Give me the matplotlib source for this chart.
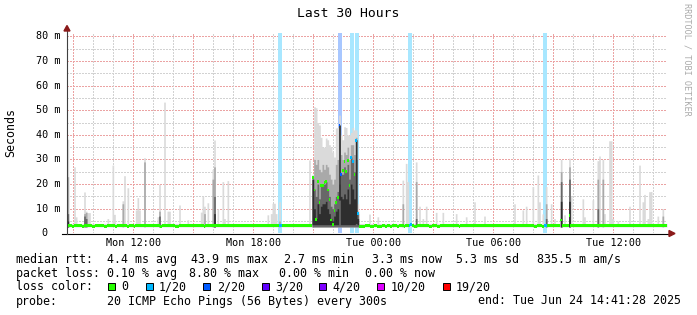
import numpy as np
import matplotlib
matplotlib.use("Agg")
import matplotlib.pyplot as plt
from matplotlib.patches import Polygon, Rectangle

# ---------------------------------------------------------------- data
start_clock = 8 + 41 / 60 + 28 / 3600      # Mon 08:41:28 (hours since Mon 00:00)
hours_span = 30
steps_per_hour = 12                        # 5 minute steps
n_steps = hours_span * steps_per_hour

# median rtt per 5-min step (ms), one row per hour
median_ms = [
    3.0, 3.1, 3.0, 2.9, 3.0, 3.0, 3.1, 3.0, 3.0, 2.9, 3.1, 3.2,
    3.1, 3.0, 3.0, 2.9, 2.9, 3.0, 3.0, 3.1, 3.0, 3.0, 2.9, 2.9,
    3.0, 3.0, 3.1, 3.1, 3.0, 2.9, 3.0, 3.0, 3.1, 3.0, 3.0, 3.0,
    2.9, 3.0, 3.0, 3.0, 2.9, 3.0, 3.1, 3.0, 3.0, 3.1, 3.0, 3.0,
    3.1, 3.2, 3.1, 3.0, 3.0, 3.1, 3.0, 3.0, 2.9, 3.0, 3.0, 3.1,
    3.0, 3.0, 3.1, 3.0, 3.0, 2.9, 2.9, 3.0, 3.0, 3.1, 3.0, 3.0,
    3.0, 3.1, 3.0, 3.0, 3.0, 3.0, 3.1, 3.0, 3.0, 3.0, 2.9, 3.0,
    3.1, 3.1, 3.0, 3.0, 3.2, 3.1, 3.0, 3.0, 3.0, 3.1, 3.0, 3.0,
    3.0, 3.1, 3.1, 3.0, 3.0, 3.1, 3.0, 3.0, 3.0, 3.1, 3.1, 3.0,
    3.1, 3.0, 3.0, 3.1, 3.1, 3.0, 3.2, 3.1, 3.1, 3.0, 3.1, 3.1,
    3.0, 3.1, 3.1, 3.0, 3.2, 3.1, 3.0, 3.1, 3.2, 3.1, 3.0, 3.1,
    3.1, 3.1, 3.2, 3.1, 3.1, 3.2, 3.1, 3.1, 3.2, 3.1, 3.2, 3.1,
    3.2, 3.1, 3.2, 22.6, 17.6, 5.6, 21.2, 12.6, 19.4, 19.4, 20.5, 21.0,
    17.6, 13.6, 5.4, 3.5, 9.2, 12.4, 14.6, 44.0, 24.0, 25.7, 29.0, 25.0,
    29.4, 19.6, 30.7, 29.0, 24.0, 37.7, 8.0, 2.9, 2.8, 2.9, 2.9, 3.0,
    3.1, 3.0, 2.9, 2.9, 3.0, 3.1, 2.9, 2.8, 2.9, 3.0, 3.0, 2.9,
    3.0, 3.0, 2.9, 3.0, 3.1, 3.0, 2.9, 3.0, 3.0, 3.0, 2.9, 3.0,
    3.0, 3.1, 3.4, 3.0, 2.9, 2.9, 3.0, 3.0, 3.0, 3.1, 3.0, 3.0,
    3.0, 2.9, 2.9, 3.0, 3.0, 3.0, 2.9, 2.9, 3.0, 3.0, 3.0, 3.0,
    3.0, 3.0, 3.1, 3.0, 3.0, 3.0, 3.0, 2.9, 3.0, 3.0, 3.0, 3.0,
    3.0, 3.0, 3.1, 3.1, 3.0, 3.0, 3.0, 3.0, 3.0, 3.1, 3.0, 3.0,
    3.0, 3.1, 3.0, 3.0, 3.0, 3.1, 3.0, 3.0, 3.0, 3.0, 3.1, 3.0,
    3.1, 3.0, 3.0, 3.0, 3.1, 3.1, 3.0, 3.0, 3.0, 3.0, 3.1, 3.0,
    3.0, 3.1, 3.1, 3.0, 2.9, 2.9, 3.0, 3.1, 3.0, 2.9, 3.2, 3.0,
    3.0, 3.0, 3.1, 3.1, 3.0, 3.0, 3.0, 3.0, 5.4, 3.1, 3.0, 3.0,
    3.0, 7.4, 3.1, 3.2, 3.1, 3.1, 3.0, 3.1, 3.1, 3.2, 3.1, 3.0,
    3.1, 3.1, 3.0, 3.1, 3.1, 3.2, 3.1, 3.0, 3.0, 3.1, 3.1, 3.1,
    3.0, 3.1, 3.1, 3.1, 3.0, 3.0, 3.1, 3.0, 3.1, 3.1, 3.1, 3.0,
    3.1, 3.0, 3.0, 3.1, 3.1, 3.0, 3.0, 3.1, 3.1, 3.0, 3.1, 3.1,
    3.1, 3.0, 3.1, 3.1, 3.0, 3.1, 3.1, 3.0, 3.1, 3.1, 3.1, 3.3,
]

# packet loss (pings lost out of 20) at individual steps
loss_steps = [127, 128, 163, 164, 170, 171, 173, 174, 205, 206, 286, 287]
loss_count = [1, 1, 2, 2, 1, 1, 1, 1, 1, 1, 1, 1]

# isolated smoke spikes: step, max ping, upper band, inner band, core (ms)
spike_step = [0, 4, 5, 10, 11, 12, 13, 24, 27, 28, 33, 34, 36, 41, 42, 43, 46, 54, 55, 58,
              60, 61, 67, 72, 80, 81, 82, 84, 87, 88, 90, 93, 94, 96, 120, 122, 123, 124, 125, 127,
              145, 181, 186, 201, 203, 204, 209, 211, 213, 215, 221, 225, 233, 239, 244, 250, 268, 273, 275, 279,
              282, 283, 285, 287, 290, 292, 296, 298, 301, 302, 309, 310, 315, 318, 319, 321, 322, 325, 326, 327,
              330, 337, 343, 345, 346, 348, 349, 350, 354, 357]
spike_top = [38.2, 27, 6.7, 16.8, 9, 8.4, 8.4, 6, 27.7, 7.7, 13.2, 23.4, 18.5, 9.5, 14.5, 9.5, 30.7, 6.7, 19.9, 53.3,
             9, 9, 11.5, 5.5, 8.6, 15.2, 11, 12.4, 26, 37.9, 10, 21, 6, 21.4, 7.5, 8, 12.2, 12.2, 8, 12.8,
             29.8, 7.8, 6.7, 21.6, 28.4, 21, 29, 11, 6, 11, 8.5, 8.5, 8, 6.7, 12.8, 7, 12, 9.5, 11, 19,
             23.7, 12.8, 7.9, 19, 12, 6, 30, 7.5, 30.5, 14.9, 14, 6.7, 13.6, 29.5, 31.4, 30, 8, 37.6, 37.6, 6,
             5, 11, 27.7, 12.8, 15.8, 6, 16.9, 17, 7, 10]
spike_mid = [23, 0, 0, 8, 8.5, 0, 0, 0, 0, 0, 12, 0, 0, 0, 0, 0, 29, 0, 9, 0,
             0, 0, 0, 0, 0, 0, 8, 0, 22, 27, 0, 0, 0, 0, 0, 0, 0, 0, 0, 5,
             0, 0, 0, 12, 0, 0, 21, 0, 0, 0, 0, 0, 0, 0, 0, 0, 0, 0, 0, 0,
             0, 0, 0, 12, 0, 0, 25, 0, 27, 0, 0, 0, 0, 22, 0, 22, 0, 0, 0, 0,
             0, 0, 0, 0, 0, 0, 0, 0, 0, 7]
spike_dark = [8, 0, 0, 7, 6, 0, 0, 0, 0, 0, 0, 0, 0, 0, 0, 0, 0, 0, 7, 0,
              0, 0, 0, 0, 0, 0, 0, 0, 0, 15, 0, 0, 0, 0, 0, 0, 0, 0, 0, 0,
              0, 0, 0, 0, 0, 0, 6, 0, 0, 0, 0, 0, 0, 0, 0, 0, 0, 0, 0, 0,
              0, 0, 0, 6, 0, 0, 21, 0, 22, 0, 0, 0, 0, 10, 0, 0, 0, 0, 0, 0,
              0, 0, 0, 0, 0, 0, 0, 0, 0, 0]
spike_core = [5, 0, 0, 0, 0, 0, 0, 0, 0, 0, 0, 0, 0, 0, 0, 0, 0, 0, 0, 0,
              0, 0, 0, 0, 0, 0, 0, 0, 0, 8, 0, 0, 0, 0, 0, 0, 0, 0, 0, 0,
              0, 0, 0, 0, 0, 0, 0, 0, 0, 0, 0, 0, 0, 0, 0, 0, 0, 0, 0, 0,
              0, 0, 0, 0, 0, 0, 13, 0, 13, 0, 0, 0, 0, 0, 0, 0, 0, 0, 0, 0,
              0, 0, 0, 0, 0, 0, 0, 0, 0, 0]

# the evening episode, steps 147..174
episode_first = 147
episode_top = [24, 51.4, 51, 45, 44, 39, 35, 35, 38.7, 38, 36, 35, 33, 31,
               42.8, 43, 48, 40, 38, 43.3, 43, 40, 40, 41, 43, 42, 42, 12]
episode_mid = [23, 30, 28, 30, 26, 25, 28, 26, 28, 27, 24, 22, 20, 22,
               28, 30, 44, 32, 30, 33, 32, 35, 30, 36, 36, 32, 39, 9]
episode_dark = [22, 18, 15, 20, 14, 19, 20, 20, 21, 18, 15, 11, 10, 12,
                15, 17, 20, 24, 24, 27, 25, 28, 22, 31, 30, 25, 30, 8]
episode_core_lo = [3.5, 3.5, 3.5, 3.5, 3.5, 3.5, 3.5, 3.5, 3.5, 3.5, 3.5, 3.5, 3.5, 3.5,
                   3.5, 3.5, 13.5, 3.5, 3.5, 3.5, 3.5, 3.5, 3.5, 3.5, 3.5, 3.5, 4.0, 3.5]
episode_core_hi = [22, 10, 6, 12, 8, 11, 12, 12, 13, 10, 8, 6, 5, 7,
                   9, 10, 44, 15, 14, 16, 14, 18, 12, 20, 18, 14, 38, 6]

smoke_floor = 2.6       # fastest pings (ms)
smoke_base_top = 4.0    # slowest ping on quiet steps (ms)

# loss colour legend
loss_labels = ["0", "1/20", "2/20", "3/20", "4/20", "10/20", "19/20"]
loss_legend_counts = [0, 1, 2, 3, 4, 10, 19]
loss_colors = ["#26ff00", "#00b8ff", "#0059ff", "#5e00ff", "#7e00ff", "#dd00ff", "#ff0000"]

ytick_values = [0, 10, 20, 30, 40, 50, 60, 70, 80]
xtick_clock = [12, 18, 24, 30, 36]
xtick_labels = ["Mon 12:00", "Mon 18:00", "Tue 00:00", "Tue 06:00", "Tue 12:00"]

legend_rows = [
    [("median rtt:", 16), ("4.4 ms avg", 107.3), ("43.9 ms max", 191), ("2.7 ms min", 284),
     ("3.3 ms now", 371.7), ("5.3 ms sd", 456), ("835.5 m am/s", 537.3)],
    [("packet loss:", 16), ("0.10 % avg", 107.3), ("8.80 % max", 189), ("0.00 % min", 279.3),
     ("0.00 % now", 365)],
]
legend_box_x = [108.3, 145.7, 203.3, 261.7, 319.3, 377.3, 442.7]

# ---------------------------------------------------------------- layout
W, H = 697, 315
fig = plt.figure(figsize=(W / 100, H / 100), dpi=100)
fig.patch.set_facecolor("white")
MONO = "DejaVu Sans Mono"

X0, X1 = 67, 667
Y0, Y1 = 233.3, 32.7
def fx(x):
    return x / W
def fy(y):
    return 1 - y / H

ax = fig.add_axes([fx(X0), fy(Y0), (X1 - X0) / W, (Y0 - Y1) / H])
y_top = 81.5
ax.set_xlim(0, hours_span)
ax.set_ylim(0, y_top)
ax.axis("off")

# grid
grid_minor = "#d2d2d2"
grid_major = "#eba3a3"
for v in range(5, 81, 5):
    ax.axhline(v, color=grid_major if v % 10 == 0 else grid_minor, lw=0.75,
               ls=(0, (1, 1.2)), zorder=0.5, antialiased=False)
first_hour = np.ceil(start_clock) - start_clock
for k in range(hours_span):
    h = first_hour + k
    if h >= hours_span:
        break
    clock = int(np.ceil(start_clock)) + k
    ax.axvline(h, color=grid_major if clock % 3 == 0 else grid_minor, lw=0.75,
               ls=(0, (1, 1.2)), zorder=0.5, antialiased=False)

# per-step arrays
edges = np.arange(n_steps + 1) / steps_per_hour
centers = (np.arange(n_steps) + 0.5) / steps_per_hour
step_w = 1.0 / steps_per_hour
top = np.full(n_steps, smoke_base_top)
mid = np.full(n_steps, smoke_floor)
dark = np.full(n_steps, smoke_floor)
core_lo = np.full(n_steps, smoke_floor)
core_hi = np.full(n_steps, smoke_floor)
for s, t, m, d, c in zip(spike_step, spike_top, spike_mid, spike_dark, spike_core):
    top[s] = t
    mid[s] = m if m else smoke_floor
    dark[s] = d if d else smoke_floor
    core_hi[s] = c if c else smoke_floor
for i in range(len(episode_top)):
    s = episode_first + i
    top[s] = episode_top[i]
    mid[s] = episode_mid[i]
    dark[s] = episode_dark[i]
    core_lo[s] = episode_core_lo[i]
    core_hi[s] = episode_core_hi[i]

def ext(a):
    return np.append(a, a[-1])

# loss background bars
def blend(hexcol, a):
    r, g, b = (int(hexcol[i:i + 2], 16) / 255 for i in (1, 3, 5))
    return (1 - a + a * r, 1 - a + a * g, 1 - a + a * b)

color_of = dict(zip(loss_legend_counts, loss_colors))
for s, c in zip(loss_steps, loss_count):
    ax.add_patch(Rectangle((edges[s] - 0.01, 0), step_w + 0.02, y_top,
                           facecolor=blend(color_of[c], 0.34), lw=0, zorder=1))

# smoke (stacked from the fastest ping upward, darker toward the middle)
floor = np.full(n_steps, smoke_floor)
ax.fill_between(edges, ext(floor), ext(top), step="post", color="#dadada", lw=0, zorder=2)
ax.fill_between(edges, ext(floor), ext(mid), step="post", color="#a9a9a9", lw=0, zorder=2.1)
ax.fill_between(edges, ext(floor), ext(dark), step="post", color="#686868", lw=0, zorder=2.2)
ax.fill_between(edges, ext(core_lo), ext(core_hi), step="post", color="#2e2e2e", lw=0, zorder=2.3)

# median, coloured by loss
med = np.array(median_ms)
loss_at = dict(zip(loss_steps, loss_count))
for i in range(n_steps):
    col = color_of[loss_at.get(i, 0)]
    ax.add_patch(Rectangle((edges[i] - 0.004, med[i] - 0.6), step_w + 0.008, 1.2,
                           facecolor=col, lw=0, zorder=3))

# ---------------------------------------------------------------- axes frame
def fig_line(xs, ys, **kw):
    fig.add_artist(plt.Line2D([fx(x) for x in xs], [fy(y) for y in ys],
                              transform=fig.transFigure, **kw))

fig_line([62, 670], [233.5, 233.5], color="#000000", lw=0.8, zorder=5)
fig_line([67, 67], [233.5, 29], color="#404040", lw=0.8, zorder=5)
fig.add_artist(Polygon([(fx(669), fy(230.5)), (fx(675), fy(233.5)), (fx(669), fy(236.5))],
                       closed=True, color="#8b1a1a", transform=fig.transFigure, zorder=6))
fig.add_artist(Polygon([(fx(64), fy(31)), (fx(67), fy(25.5)), (fx(70), fy(31))],
                       closed=True, color="#8b1a1a", transform=fig.transFigure, zorder=6))

# y tick labels
ytr = ax.get_yaxis_transform()
for v in ytick_values:
    label = f"{v} m" if v else "0"
    right_px = 60 if v else 48
    ax.text((right_px - X0) / (X1 - X0), v, label, transform=ytr, ha="right", va="center",
            family=MONO, fontsize=7.3, color="#000000")

# x tick labels
xtr = ax.get_xaxis_transform()
for c, lab in zip(xtick_clock, xtick_labels):
    ax.text(c - start_clock, (Y0 - 242.7) / (Y0 - Y1), lab, transform=xtr, ha="center",
            va="center", family=MONO, fontsize=7.3, color="#000000")

# title and side texts
fig.text(fx(348), fy(13.5), "Last 30 Hours", ha="center", va="center", family=MONO,
         fontsize=9.4, color="#000000")
fig.text(fx(11), fy(132), "Seconds", ha="center", va="center", rotation=90, family=MONO,
         fontsize=8.4, color="#000000")
fig.text(fx(687), fy(59), "RRDTOOL / TOBI OETIKER", ha="center", va="center", rotation=270,
         family=MONO, fontsize=6.1, color="#aaaaaa")

# legend
row_y = [259.3, 273.3, 287.0, 301.0]
for r, items in enumerate(legend_rows):
    for txt, x in items:
        fig.text(fx(x), fy(row_y[r]), txt, ha="left", va="center", family=MONO, fontsize=8.35)
fig.text(fx(16), fy(row_y[2]), "loss color:", ha="left", va="center", family=MONO, fontsize=8.35)
for bx, lab, col in zip(legend_box_x, loss_labels, loss_colors):
    fig.add_artist(Rectangle((fx(bx), fy(290.3)), 7 / W, 7 / H, facecolor=col,
                             edgecolor="#000000", lw=0.7, transform=fig.transFigure))
    fig.text(fx(bx + 13.4), fy(row_y[2]), lab, ha="left", va="center", family=MONO, fontsize=8.35)
fig.text(fx(16), fy(row_y[3]), "probe:", ha="left", va="center", family=MONO, fontsize=8.35)
fig.text(fx(107.3), fy(row_y[3]), "20 ICMP Echo Pings (56 Bytes) every 300s", ha="left",
         va="center", family=MONO, fontsize=8.35)
fig.text(fx(478.3), fy(row_y[3]), "end: Tue Jun 24 14:41:28 2025", ha="left", va="center",
         family=MONO, fontsize=8.35)

fig.savefig("out.png", dpi=100, facecolor="white")
